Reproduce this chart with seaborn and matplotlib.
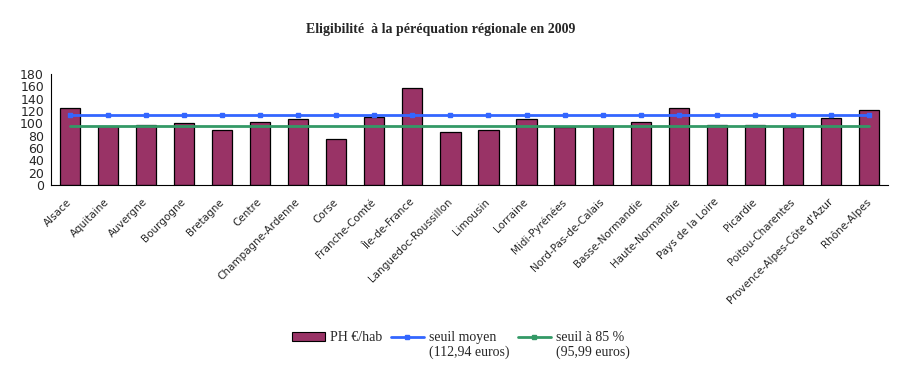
import numpy as np
import matplotlib
matplotlib.use("Agg")
import matplotlib.pyplot as plt
from matplotlib.lines import Line2D
from matplotlib.patches import Patch, Rectangle
import seaborn as sns

# données
regions = ["Alsace", "Aquitaine", "Auvergne", "Bourgogne", "Bretagne", "Centre",
           "Champagne-Ardenne", "Corse", "Franche-Comté", "Île-de-France",
           "Languedoc-Roussillon", "Limousin", "Lorraine", "Midi-Pyrénées",
           "Nord-Pas-de-Calais", "Basse-Normandie", "Haute-Normandie",
           "Pays de la Loire", "Picardie", "Poitou-Charentes",
           "Provence-Alpes-Côte d'Azur", "Rhône-Alpes"]
ph_hab = [125, 96, 98, 100.5, 89, 102, 107, 74.5, 110, 157, 86, 89, 107, 94,
          96, 102, 125, 98, 98, 94, 108.5, 121.5]
seuil_moyen = 112.94
seuil_85 = 95.99
yticks = list(range(0, 181, 20))

titre = "Eligibilité  à la péréquation régionale en 2009"
labels = ["PH €/hab\n ", "seuil moyen\n(112,94 euros)", "seuil à 85 %\n(95,99 euros)"]

col_bar = "#993366"
col_blue = "#3366FF"
col_green = "#339966"

sns.set_style("white")
plt.rcParams["font.family"] = ["DejaVu Sans"]

fig = plt.figure(figsize=(9.07, 3.77), dpi=100)
ax = fig.add_axes([0.0562, 0.509, 0.9228, 0.295])

sns.barplot(x=regions, y=ph_hab, color=col_bar, saturation=1, edgecolor="black",
            linewidth=0.9, width=0.53, ax=ax)

x = np.arange(len(regions))
ax.plot(x, [seuil_moyen] * len(x), color=col_blue, lw=2, marker="s", ms=3)
ax.plot(x, [seuil_85] * len(x), color=col_green, lw=2)

ax.set_xlim(-0.5, len(regions) - 0.5)
ax.set_ylim(0, 180)
ax.set_yticks(yticks)
ax.set_xlabel("")
ax.set_ylabel("")

# graduations entre les catégories
ax.set_xticks(x)
ax.set_xticklabels(regions, rotation=45, ha="right", va="center",
                   rotation_mode="anchor", fontsize=7.5)
ax.set_xticks(np.arange(len(regions) + 1) - 0.5, minor=True)
ax.tick_params(axis="x", which="major", length=0, pad=11)
ax.tick_params(axis="x", which="minor", length=4, width=0.8, direction="out",
               color="black")
ax.tick_params(axis="y", length=3, width=0.8, direction="out", color="black",
               labelsize=9, pad=2)

sns.despine(ax=ax)
for s in ["left", "bottom"]:
    ax.spines[s].set_color("black")
    ax.spines[s].set_linewidth(0.8)

fig.text(0.486, 1 - 29 / 377, titre, ha="center", va="center",
         family="Liberation Serif", weight="bold", fontsize=10)

handles = [Patch(facecolor=col_bar, edgecolor="black", linewidth=0.8),
           Line2D([], [], color=col_blue, lw=2, marker="s", ms=2.5),
           Line2D([], [], color=col_green, lw=2, marker="s", ms=2.5)]
leg = fig.legend(handles, labels, loc="center", bbox_to_anchor=(0.508, 0.085),
                 ncol=3, frameon=False, prop={"family": "Liberation Serif", "size": 10},
                 handlelength=2.4, handletextpad=0.35, columnspacing=0.6,
                 handleheight=0.6)
# remonter les symboles au niveau de la première ligne
for h in leg.legend_handles:
    if isinstance(h, Line2D):
        h.set_ydata(np.asarray(h.get_ydata()) + 6)
    elif isinstance(h, Rectangle):
        h.set_y(h.get_y() + 6)

fig.savefig("out.png", dpi=100)
